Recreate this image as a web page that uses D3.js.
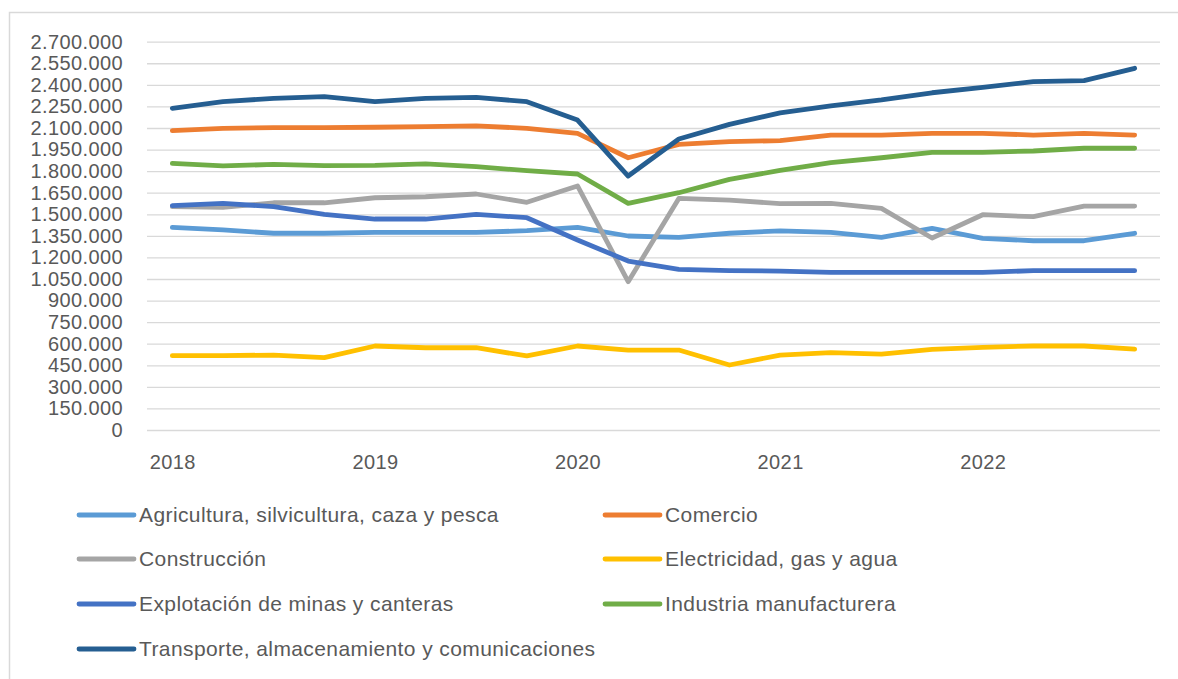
<!DOCTYPE html>
<html>
<head>
<meta charset="utf-8">
<script src="https://cdn.jsdelivr.net/npm/d3@7"></script>
<style>
  body { margin: 0; background: #fff; }
  text { font-family: "Liberation Sans", Arial, sans-serif; fill: #595959; }
</style>
</head>
<body>
<script>
// quarterly categories 2018-2022
const quarters = [
  '2018-T1', '2018-T2', '2018-T3', '2018-T4',
  '2019-T1', '2019-T2', '2019-T3', '2019-T4',
  '2020-T1', '2020-T2', '2020-T3', '2020-T4',
  '2021-T1', '2021-T2', '2021-T3', '2021-T4',
  '2022-T1', '2022-T2', '2022-T3', '2022-T4'
];
const yearLabels = ['2018', '2019', '2020', '2021', '2022'];
const yTicks = d3.range(0, 2700001, 150000);

const agricultura = [1409000, 1391000, 1368000, 1368000, 1374000, 1374000, 1374000, 1386000, 1409000, 1349000,
  1340000, 1368000, 1385000, 1374000, 1340000, 1402000, 1333000, 1316000, 1316000, 1368000];
const comercio = [2081000, 2098000, 2102000, 2102000, 2105000, 2109000, 2114000, 2098000, 2063000, 1893000,
  1986000, 2005000, 2012000, 2051000, 2051000, 2063000, 2063000, 2051000, 2063000, 2051000];
const construccion = [1553000, 1548000, 1580000, 1580000, 1615000, 1622000, 1641000, 1583000, 1697000, 1031000,
  1610000, 1599000, 1574000, 1576000, 1541000, 1335000, 1497000, 1483000, 1557000, 1557000];
const electricidad = [517000, 517000, 521000, 503000, 584000, 572000, 572000, 515000, 584000, 556000,
  556000, 452000, 521000, 538000, 528000, 561000, 575000, 584000, 584000, 563000];
const minas = [1560000, 1576000, 1553000, 1500000, 1467000, 1467000, 1500000, 1476000, 1321000, 1175000,
  1117000, 1108000, 1105000, 1096000, 1096000, 1096000, 1096000, 1108000, 1108000, 1108000];
const industria = [1854000, 1836000, 1847000, 1838000, 1840000, 1850000, 1831000, 1803000, 1780000, 1576000,
  1650000, 1743000, 1805000, 1859000, 1893000, 1931000, 1931000, 1940000, 1959000, 1959000];
const transporte = [2237000, 2283000, 2306000, 2318000, 2283000, 2306000, 2313000, 2283000, 2155000, 1766000,
  2023000, 2125000, 2205000, 2253000, 2295000, 2345000, 2383000, 2422000, 2429000, 2515000];

const seriesNames = [
  'Agricultura, silvicultura, caza y pesca', 'Comercio',
  'Construcción', 'Electricidad, gas y agua',
  'Explotación de minas y canteras', 'Industria manufacturera',
  'Transporte, almacenamiento y comunicaciones'
];
const seriesValues = [agricultura, comercio, construccion, electricidad, minas, industria, transporte];
const colors = ['#5B9BD5', '#ED7D31', '#A5A5A5', '#FFC000', '#4472C4', '#70AD47', '#255E91'];

const width = 1178, height = 679;
const plotLeft = 147, plotRight = 1160, plotTop = 41.7, plotBottom = 430;

const svg = d3.select('body').append('svg')
  .attr('width', width)
  .attr('height', height);

// chart frame
svg.append('path')
  .attr('d', `M9.5,${height + 2}V12.5H${width + 2}`)
  .attr('fill', 'none')
  .attr('stroke', '#D9D9D9')
  .attr('stroke-width', 1.5);

const x = d3.scalePoint()
  .domain(d3.range(quarters.length))
  .range([plotLeft, plotRight])
  .padding(0.5);

const y = d3.scaleLinear()
  .domain([0, 2700000])
  .range([plotBottom, plotTop]);

const loc = d3.formatLocale({ decimal: ',', thousands: '.', grouping: [3], currency: ['', ''] });
const fmt = loc.format(',d');

// gridlines
const grid = svg.append('g')
  .attr('transform', `translate(${plotLeft},0)`)
  .call(d3.axisLeft(y).tickValues(yTicks).tickSize(-(plotRight - plotLeft)).tickFormat(''));
grid.select('.domain').remove();
grid.selectAll('line').attr('stroke', '#D9D9D9').attr('stroke-width', 1.3);

// y labels
const yAxis = svg.append('g')
  .attr('transform', `translate(${plotLeft},0)`)
  .call(d3.axisLeft(y).tickValues(yTicks).tickSize(0).tickPadding(24).tickFormat(fmt));
yAxis.select('.domain').remove();
yAxis.selectAll('text')
  .attr('fill', '#595959')
  .style('font-size', '20px')
  .style('letter-spacing', '0.4px')
  .style('font-family', '"Liberation Sans", Arial, sans-serif');

// x labels (first quarter of each year)
const xAxis = svg.append('g')
  .attr('transform', `translate(0,${plotBottom})`)
  .call(d3.axisBottom(x)
    .tickValues(d3.range(0, quarters.length, 4))
    .tickSize(0)
    .tickPadding(25)
    .tickFormat((d, i) => yearLabels[i]));
xAxis.select('.domain').remove();
xAxis.selectAll('text')
  .attr('fill', '#595959')
  .style('font-size', '20px')
  .style('letter-spacing', '0.4px')
  .style('font-family', '"Liberation Sans", Arial, sans-serif');

// lines
const line = d3.line()
  .x((d, i) => x(i))
  .y(d => y(d));

seriesValues.forEach((vals, k) => {
  svg.append('path')
    .datum(vals)
    .attr('d', line)
    .attr('fill', 'none')
    .attr('stroke', colors[k])
    .attr('stroke-width', 4.8)
    .attr('stroke-linejoin', 'round')
    .attr('stroke-linecap', 'round');
});

// legend
const legendRows = [515, 559, 604, 649];
const legendCols = [79, 605];
const legend = svg.append('g');
seriesNames.forEach((name, k) => {
  const lx = legendCols[k % 2], ly = legendRows[Math.floor(k / 2)];
  legend.append('line')
    .attr('x1', lx).attr('x2', lx + 55)
    .attr('y1', ly).attr('y2', ly)
    .attr('stroke', colors[k])
    .attr('stroke-width', 4.8)
    .attr('stroke-linecap', 'round');
  legend.append('text')
    .attr('x', lx + 60)
    .attr('y', ly)
    .attr('dy', '0.35em')
    .style('font-size', '21px')
    .style('letter-spacing', '0.4px')
    .text(name);
});
</script>
</body>
</html>
